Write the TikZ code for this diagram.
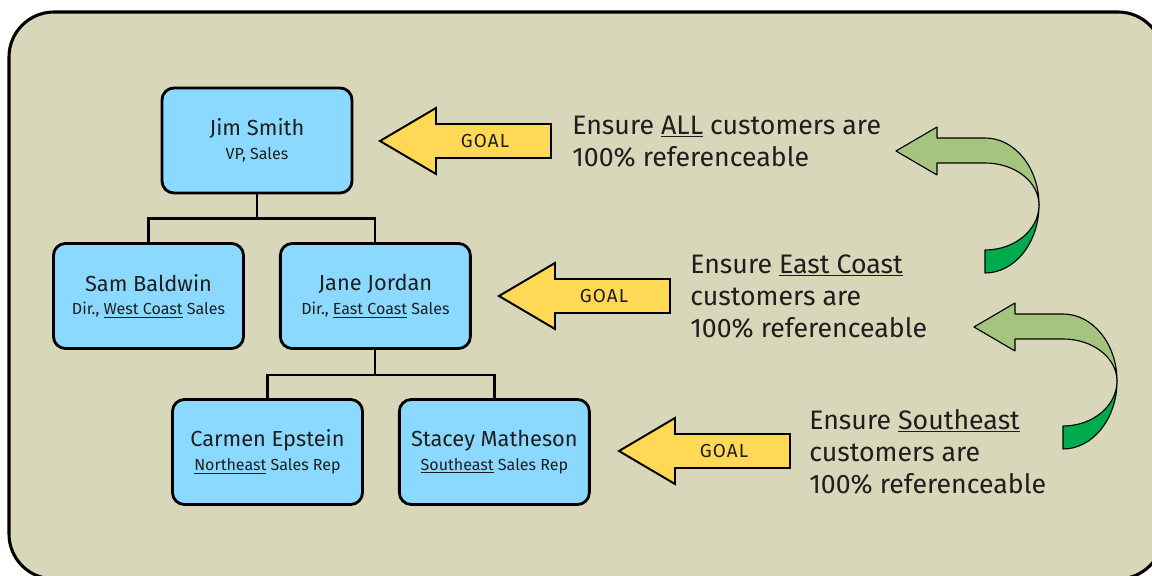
\documentclass[tikz,border=0pt]{standalone}
\usepackage{fontspec}
\setmainfont{Fira Sans}
\usepackage{tikz}
\usetikzlibrary{positioning}

\definecolor{bgcol}{HTML}{D8D7B9}
\definecolor{boxcol}{HTML}{8CD9FF}
\definecolor{goalcol}{HTML}{FFD955}
\definecolor{lightgreen}{HTML}{A4C480}
\definecolor{darkgreen}{HTML}{00AB4E}
\definecolor{inkcol}{HTML}{1E1E1E}

\newcommand{\role}[1]{{\fontsize{11.4}{17}\selectfont #1}}

\tikzset{
  person/.style={draw=black, line width=2pt, fill=boxcol, rounded corners=0.3cm,
    minimum width=4.75cm, minimum height=2.625cm, align=center, inner sep=0pt,
    text=inkcol, font=\fontsize{15.5}{17}\selectfont},
  branch/.style={draw=black, line width=1.6pt},
  goalarrow/.style={draw=black, line width=1.4pt, fill=goalcol, line join=miter},
  goaltext/.style={text=inkcol, inner sep=0pt, font=\fontsize{13.4}{16}\selectfont\addfontfeatures{LetterSpace=6}},
  claim/.style={anchor=north west, align=left, inner sep=0pt, text=inkcol,
    font=\fontsize{19}{22.8}\selectfont},
  greenfront/.style={draw=black, line width=0.8pt, fill=lightgreen, line join=round},
  greenback/.style={draw=black, line width=0.8pt, fill=darkgreen, line join=round}
}

\begin{document}
\begin{tikzpicture}[x=0.025cm, y=-0.025cm]
  \clip (0,0) rectangle (1152,576);
  \draw[line width=2.2pt, fill=bgcol, rounded corners=1.125cm] (9,12) rectangle (1163,579);

  % org chart
  \node[person] (jim) at (257,140.5) {Jim Smith\\\role{VP, Sales}};
  \node[person] (sam) at (148.5,296) {Sam Baldwin\\\role{Dir., \underline{West Coast} Sales}};
  \node[person, right=0.85cm of sam] (jane) {Jane Jordan\\\role{Dir., \underline{East Coast} Sales}};
  \node[person] (carmen) at (267.5,452) {Carmen Epstein\\\role{\underline{Northeast} Sales Rep}};
  \node[person, right=0.85cm of carmen] (stacey) {Stacey Matheson\\\role{\underline{Southeast} Sales Rep}};

  \draw[branch] (jim.south) -- ++(0,24) -| (sam.north);
  \draw[branch] (jim.south) -- ++(0,24) -| (jane.north);
  \draw[branch] (jane.south) -- ++(0,25) -| (carmen.north);
  \draw[branch] (jane.south) -- ++(0,25) -| (stacey.north);

  % goal arrows
  \foreach \gx/\gy [count=\i] in {380/141, 499/296, 619/451} {
    \draw[goalarrow] (\gx,\gy) -- ++(56,-33) -- ++(0,16) -- ++(115,0) -- ++(0,34)
      -- ++(-115,0) -- ++(0,16) -- cycle;
    \node[goaltext] (goal\i) at (\gx+105,\gy) {GOAL};
  }

  % goals
  \node[claim] (allgoal) at (572,115.5) {Ensure \underline{ALL} customers are\\100\% referenceable};
  \node[claim] (eastgoal) at (690,254) {Ensure \underline{East Coast}\\customers are\\100\% referenceable};
  \node[claim] (southgoal) at (809,409) {Ensure \underline{Southeast}\\customers are\\100\% referenceable};

  % roll-up arrows
  \foreach \dx/\dy in {0/0, 78/176} {
    \begin{scope}[shift={(\dx,\dy)}]
      \draw[greenback] (1039,205) arc[start angle=0, end angle=90, x radius=54, y radius=68]
        -- ++(0,-23) arc[start angle=90, end angle=0, x radius=54, y radius=45] -- cycle;
      \draw[greenfront] (896,151) -- (937,127) -- (937,138) -- (985,138)
        arc[start angle=-90, end angle=0, x radius=54, y radius=67]
        arc[start angle=0, end angle=-90, x radius=54, y radius=42]
        -- (937,163) -- (937,175) -- cycle;
    \end{scope}
  }
\end{tikzpicture}
\end{document}
